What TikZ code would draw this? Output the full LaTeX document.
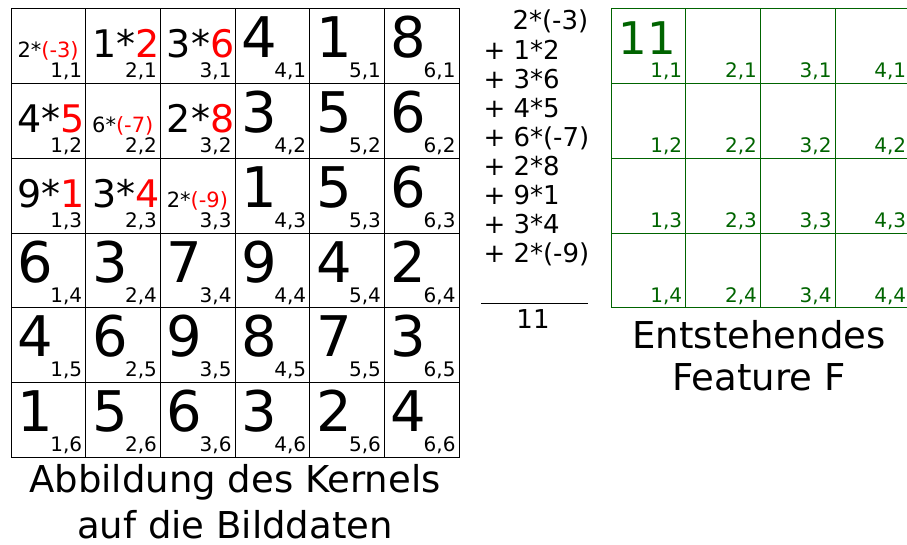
\documentclass[tikz,border=0pt]{standalone}
\usepackage{fontspec}
\setmainfont{DejaVu Sans}
\definecolor{featgreen}{RGB}{0,100,0}
\newcommand{\fsz}[1]{\fontsize{#1}{#1}\selectfont}
\newcommand{\kbig}[2]{{\fsz{38}#1*\textcolor{red}{#2}}}
\newcommand{\ksmall}[2]{{\fsz{21}#1*\textcolor{red}{(#2)}}}
\begin{document}
\begin{tikzpicture}[x=1pt, y=-1pt, line width=1pt]
    \tikzset{val/.style={anchor=base west, inner sep=0pt, font=\fsz{56}},
             idx/.style={anchor=base east, inner sep=0pt, font=\fsz{20}},
             eq/.style={anchor=base west, inner sep=0pt, font=\fsz{26}},
             captxt/.style={align=center, anchor=base, inner sep=0pt}}
    \useasboundingbox (0,0) rectangle (907,545);
    \def\cw{74.67}
    % image data with kernel
    \foreach \row [count=\j] in {{\ksmall{2}{-3},\kbig{1}{2},\kbig{3}{6},4,1,8},
                                 {\kbig{4}{5},\ksmall{6}{-7},\kbig{2}{8},3,5,6},
                                 {\kbig{9}{1},\kbig{3}{4},\ksmall{2}{-9},1,5,6},
                                 {6,3,7,9,4,2},
                                 {4,6,9,8,7,3},
                                 {1,5,6,3,2,4}}{
        \foreach \v [count=\i] in \row {
            \pgfmathsetmacro\xl{11+(\i-1)*\cw}
            \pgfmathsetmacro\yt{9+(\j-1)*\cw}
            \draw (\xl,\yt) rectangle ++(\cw,\cw);
            \node[val] (v-\i-\j) at (\xl+6,\yt+49) {\v};
            \node[idx] (i-\i-\j) at (\xl+\cw-3,\yt+69) {\i,\j};
        }
    }
    % feature map
    \foreach \j in {1,...,4}{
        \foreach \i in {1,...,4}{
            \pgfmathsetmacro\xl{611+(\i-1)*\cw}
            \pgfmathsetmacro\yt{9+(\j-1)*\cw}
            \draw[featgreen] (\xl,\yt) rectangle ++(\cw,\cw);
            \node[idx, text=featgreen] (fi-\i-\j) at (\xl+\cw-3,\yt+69) {\i,\j};
        }
    }
    \node[val, text=featgreen, font=\fsz{45}] (fv-1-1) at (618,55) {11};
    % sum of products
    \node[eq] (eq-1) at (512,30) {2*(-3)};
    \foreach \t [count=\k from 2] in {1*2,3*6,4*5,6*(-7),2*8,9*1,3*4,2*(-9)}{
        \node[eq] (eq-\k) at (483,{30+(\k-1)*29.1}) {+ \t};
    }
    \coordinate (rule-l) at (481,303);
    \coordinate (rule-r) at (588,303);
    \draw (rule-l) -- (rule-r);
    \node[eq, anchor=base] (sum) at (533,328) {11};

    \node[captxt, font=\fontsize{37}{46}\selectfont] (cap-img) at (235,538) {Abbildung des Kernels\\auf die Bilddaten};
    \node[captxt, font=\fontsize{37}{42}\selectfont] (cap-feat) at (759,390) {Entstehendes\\Feature F};
\end{tikzpicture}
\end{document}
